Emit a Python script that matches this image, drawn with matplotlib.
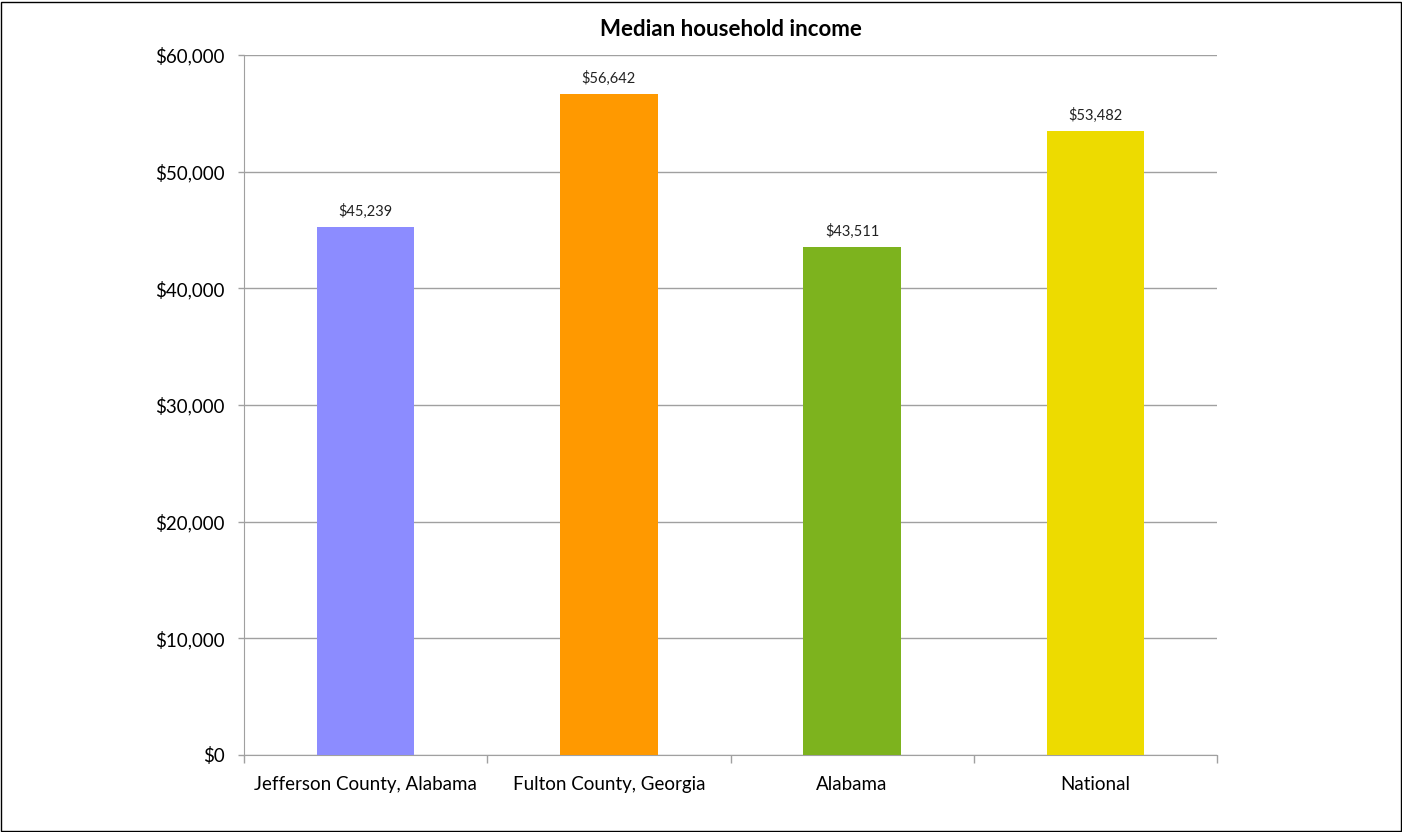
import matplotlib.pyplot as plt
from matplotlib.ticker import FuncFormatter, FixedLocator

# Data
categories = ["Jefferson County, Alabama", "Fulton County, Georgia", "Alabama", "National"]
income = [45239, 56642, 43511, 53482]
colors = ["#8C8CFF", "#FF9900", "#7DB31E", "#EDDB00"]

plt.rcParams['font.family'] = ['Lato', 'DejaVu Sans']

fig = plt.figure(figsize=(14.02, 8.32), dpi=100)
ax = fig.add_axes([244 / 1402, 1 - 755 / 832, (1217 - 244) / 1402, (755 - 55) / 832])

x = list(range(len(categories)))
ax.bar(x, income, width=0.4, color=colors, zorder=3)

for xi, v in zip(x, income):
    ax.annotate(f"${v:,}", (xi, v), xytext=(0, 6), textcoords="offset points",
                ha="center", va="bottom", fontsize=10.5, color="#222222")

ax.set_xlim(-0.5, len(categories) - 0.5)
ax.set_ylim(0, 60000)
ax.set_yticks(range(0, 60001, 10000))
ax.yaxis.set_major_formatter(FuncFormatter(lambda v, p: f"${int(v):,}"))
ax.grid(axis="y", color="#A0A0A0", linewidth=1, zorder=0)

ax.set_xticks(x)
ax.set_xticklabels(categories, fontsize=13.5)
ax.tick_params(axis="x", length=0, pad=15)
ax.xaxis.set_minor_locator(FixedLocator([i - 0.5 for i in range(len(categories) + 1)]))
ax.tick_params(axis="x", which="minor", length=6, color="#A0A0A0", width=1)
ax.tick_params(axis="y", labelsize=13.5, length=4, color="#A0A0A0", width=1, pad=10)

for s in ["top", "right"]:
    ax.spines[s].set_visible(False)
for s in ["left", "bottom"]:
    ax.spines[s].set_color("#A0A0A0")

fig.text((244 + 1217) / 2 / 1402, 1 - 29 / 832, "Median household income",
         ha="center", va="center", fontsize=16, fontweight="bold")

# outer border
fig.patches.append(plt.Rectangle((0.001, 0.001), 0.998, 0.997, transform=fig.transFigure,
                                 fill=False, edgecolor="black", linewidth=1))

fig.savefig("out.png", dpi=100)
